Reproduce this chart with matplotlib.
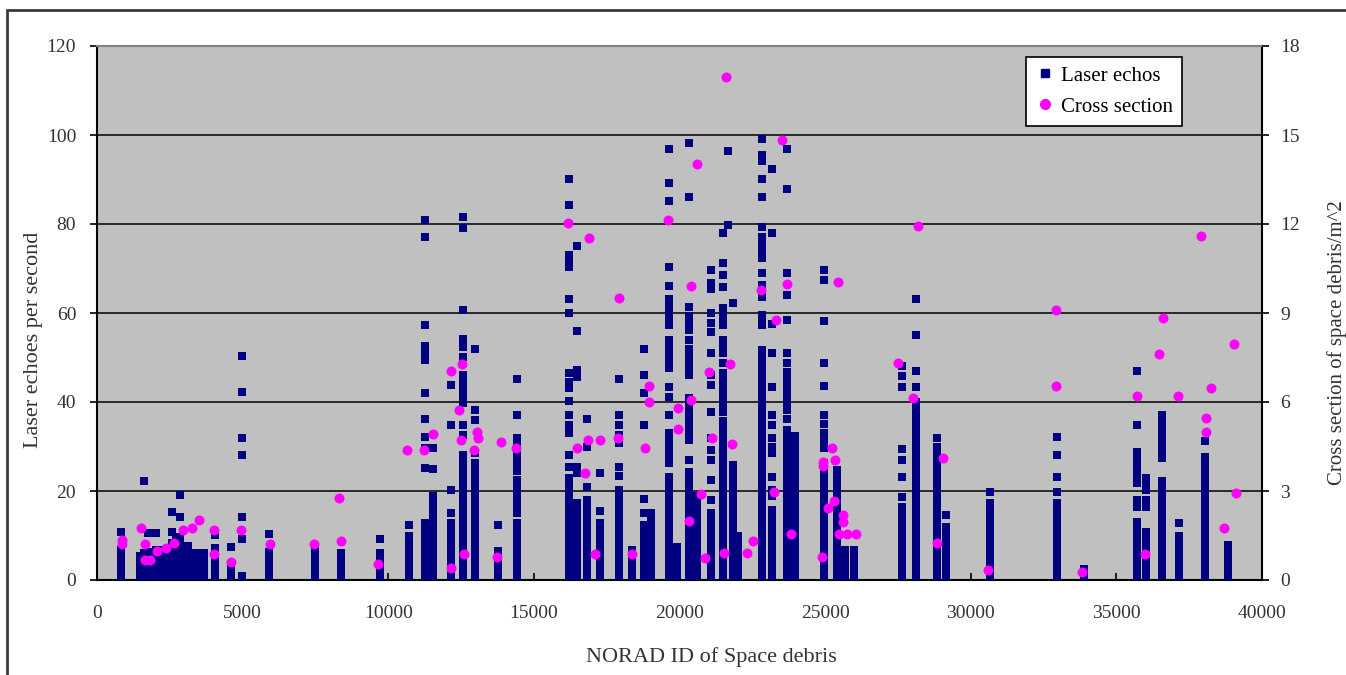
import matplotlib
matplotlib.use("Agg")
import matplotlib.pyplot as plt
from matplotlib.lines import Line2D
from matplotlib.patches import Rectangle

plt.rcParams['font.family'] = ['Liberation Serif', 'DejaVu Serif']

# laser echoes per second, one list of echo values per tracked object
echo_ids = [824, 1476, 1614, 1751, 1890, 2025, 2160, 2300, 2440, 2575, 2710, 2849, 2990, 3124,
            3260, 3399, 3530, 3673, 4051, 4600, 4978,
            5905, 7484, 8377, 9715, 10711, 11260, 11535, 12153, 12565, 12977, 13766, 14419,
            16204, 16478, 16822, 17268, 17920, 18366, 18778, 19019, 19637, 19911, 20323, 20598,
            21079, 21491, 21650, 21834, 22006, 22829, 23173, 23688, 23962, 24958, 25404, 25679,
            25988, 27635, 28116, 28837, 29146, 30657, 32957, 33884, 35703, 36012, 36561, 37145,
            38038, 38827]
echo_counts = [
    [0.8, 2.3, 3.8, 5.3, 6.8, 10.7],
    [0.8, 2.3, 3.8, 5.3],
    [0.8, 2.3, 3.8, 5.3, 6.0, 22.2],
    [0.8, 2.3, 3.8, 5.3, 6.3, 10.5],
    [0.8, 2.3, 3.8, 5.3, 6.3],
    [0.8, 2.3, 3.8, 5.3, 6.8, 10.5],
    [0.8, 2.3, 3.8, 5.3, 6.8],
    [0.8, 2.3, 3.8, 5.3, 6.8],
    [0.8, 2.3, 3.8, 5.3, 7.3],
    [0.8, 2.3, 3.8, 5.3, 6.8, 8.3, 10.7, 15.3],
    [0.8, 2.3, 3.8, 5.3, 6.8, 8.3, 9.6],
    [0.8, 2.3, 3.8, 5.3, 6.8, 8.3, 9.6, 14.2, 19.1],
    [0.8, 2.3, 3.8, 5.3, 6.8],
    [0.8, 2.3, 3.8, 5.3, 6.8, 7.7],
    [0.8, 2.3, 3.8, 5.3, 6.0],
    [0.8, 2.3, 3.8, 5.3, 6.0],
    [0.8, 2.3, 3.8, 5.3, 6.0],
    [0.8, 2.3, 3.8, 5.3, 6.0],
    [0.8, 2.3, 3.8, 5.3, 7.3, 10.2],
    [0.8, 2.3, 3.3, 7.5],
    [0.9, 9.2, 14.2, 28.1, 31.9, 42.2, 50.3],
    [0.8, 2.3, 3.8, 5.3, 6.3, 10.3],
    [0.8, 2.3, 3.8, 5.3, 6.5],
    [0.8, 2.3, 3.8, 5.3, 6.0],
    [0.8, 2.3, 3.8, 5.3, 6.0, 9.2],
    [0.8, 2.3, 3.8, 5.3, 6.8, 8.3, 9.8, 12.4],
    [0.8, 2.3, 3.8, 5.3, 6.8, 8.3, 9.8, 11.3, 12.8, 25.2, 29.7, 32.1, 36.2, 42.0, 49.5, 51.0,
     52.5, 57.3, 77.1, 81.0],
    [0.8, 2.3, 3.8, 5.3, 6.8, 8.3, 9.8, 11.3, 12.8, 14.3, 15.8, 17.3, 18.8, 25.0, 29.7],
    [0.8, 2.3, 3.8, 5.3, 6.8, 8.3, 9.8, 11.3, 12.8, 15.0, 20.2, 34.8, 43.8],
    [0.8, 2.3, 3.8, 5.3, 6.8, 8.3, 9.8, 11.3, 12.8, 14.3, 15.8, 17.3, 18.8, 20.3, 21.8, 23.3,
     24.8, 26.3, 28.1, 32.6, 34.8, 39.8, 41.3, 42.8, 44.3, 46.1, 50.1, 52.4, 54.2, 60.7, 79.1, 81.5],
    [0.8, 2.3, 3.8, 5.3, 6.8, 8.3, 9.8, 11.3, 12.8, 14.3, 15.8, 17.3, 18.8, 20.3, 21.8, 23.3,
     24.8, 26.3, 28.5, 36.0, 38.2, 51.9],
    [0.8, 2.3, 3.8, 5.3, 6.5, 12.4],
    [0.8, 2.3, 3.8, 5.3, 6.8, 8.3, 9.8, 11.3, 12.8, 15.0, 16.5, 18.0, 19.5, 21.0, 22.5, 24.5,
     26.0, 27.5, 29.0, 30.5, 32.0, 37.1, 45.2],
    [0.8, 2.3, 3.8, 5.3, 6.8, 8.3, 9.8, 11.3, 12.8, 14.3, 15.8, 17.3, 18.8, 20.3, 21.3, 23.0,
     25.4, 28.1, 33.0, 34.8, 37.1, 40.2, 43.1, 44.6, 46.5, 60.0, 63.1, 70.4, 72.0, 73.0, 84.3, 90.1],
    [0.8, 2.3, 3.8, 5.3, 6.8, 8.3, 9.8, 11.3, 12.8, 14.3, 15.8, 17.3, 24.0, 25.4, 45.6, 47.2,
     56.0, 75.0],
    [0.8, 2.3, 3.8, 5.3, 6.8, 8.3, 9.8, 11.3, 12.8, 14.3, 15.8, 17.3, 18.0, 20.9, 29.9, 36.2],
    [0.8, 2.3, 3.8, 5.3, 6.8, 8.3, 9.8, 11.3, 12.8, 15.5, 24.0],
    [0.8, 2.3, 3.8, 5.3, 6.8, 8.3, 9.8, 11.3, 12.8, 14.3, 15.8, 17.3, 18.8, 20.3, 23.4, 25.4,
     30.8, 32.6, 34.8, 37.1, 45.2],
    [0.8, 2.3, 3.8, 5.3, 6.7],
    [0.8, 2.3, 3.8, 5.3, 6.8, 8.3, 9.8, 10.6, 12.4, 15.0, 18.2, 34.8, 42.0, 46.0, 51.9],
    [0.8, 2.3, 3.8, 5.3, 6.8, 8.3, 9.8, 11.3, 12.8, 14.3, 15.0],
    [0.8, 2.3, 3.8, 5.3, 6.8, 8.3, 9.8, 11.3, 12.8, 14.3, 15.8, 17.3, 18.8, 20.3, 21.8, 23.1,
     26.3, 27.8, 29.3, 30.8, 32.3, 33.0, 37.1, 41.1, 43.4, 47.6, 49.1, 50.6, 52.1, 54.0, 57.3,
     58.8, 60.3, 61.3, 63.1, 66.0, 70.4, 85.2, 89.2, 96.8],
    [0.8, 2.3, 3.8, 5.3, 6.8, 7.4],
    [0.8, 2.3, 3.8, 5.3, 6.8, 8.3, 9.8, 11.3, 12.8, 14.3, 15.0, 16.5, 18.0, 19.5, 21.0, 22.5,
     24.3, 27.0, 31.5, 33.0, 34.5, 36.0, 37.5, 39.0, 40.5, 41.0, 46.0, 47.5, 49.0, 50.5, 52.0,
     54.0, 56.2, 57.8, 59.3, 61.3, 86.0, 98.2],
    [0.8, 2.3, 3.8, 5.3, 6.8, 8.3, 9.8, 11.3, 12.8, 14.3, 15.8, 17.3, 18.8],
    [0.8, 2.3, 3.8, 5.3, 6.8, 8.3, 9.8, 11.3, 12.8, 13.5, 15.0, 18.0, 22.5, 27.0, 29.2, 31.9,
     37.8, 43.8, 46.0, 51.0, 55.7, 57.8, 60.0, 65.4, 66.7, 69.7],
    [0.8, 2.3, 3.8, 5.3, 6.8, 8.3, 9.8, 11.3, 12.8, 14.3, 15.8, 17.3, 18.8, 20.3, 21.8, 23.3,
     24.8, 25.8, 27.3, 28.8, 29.7, 31.2, 32.7, 34.2, 35.7, 37.8, 39.0, 40.5, 42.0, 43.5, 45.0,
     46.5, 48.8, 51.0, 52.5, 54.0, 57.3, 58.8, 60.3, 61.1, 65.9, 68.5, 71.2, 78.0],
    [79.8, 96.4],
    [0.8, 2.3, 3.8, 5.3, 6.8, 8.3, 9.8, 11.3, 12.8, 14.3, 15.8, 17.3, 18.8, 20.3, 21.8, 23.3,
     24.8, 25.8, 62.2],
    [0.8, 2.3, 3.8, 5.3, 6.8, 8.3, 9.8],
    [0.8, 2.3, 3.8, 5.3, 6.8, 8.3, 9.8, 11.3, 12.8, 14.3, 15.8, 17.3, 18.8, 20.3, 21.8, 23.3,
     24.8, 26.3, 27.8, 29.3, 30.8, 31.5, 33.0, 34.5, 36.0, 37.5, 38.6, 39.8, 41.2, 42.0, 43.4,
     44.9, 46.4, 47.9, 49.4, 50.9, 51.7, 57.3, 58.5, 59.6, 63.6, 65.0, 66.3, 69.0, 72.4, 73.9,
     75.4, 77.0, 79.3, 86.0, 90.1, 94.2, 95.5, 99.0],
    [0.8, 2.3, 3.8, 5.3, 6.8, 8.3, 9.8, 11.3, 12.8, 14.3, 15.7, 18.8, 20.3, 23.1, 28.5, 30.0,
     31.9, 34.8, 37.1, 43.4, 51.0, 57.6, 78.0, 92.3],
    [0.8, 2.3, 3.8, 5.3, 6.8, 8.3, 9.8, 11.3, 12.8, 14.3, 15.8, 17.3, 18.8, 20.3, 21.8, 23.3,
     24.8, 26.3, 27.8, 29.3, 30.8, 32.3, 33.8, 36.2, 38.2, 39.7, 41.2, 42.7, 44.2, 45.7, 46.7,
     48.8, 51.0, 58.4, 64.0, 69.0, 87.8, 96.8],
    [0.8, 2.3, 3.8, 5.3, 6.8, 8.3, 9.8, 11.3, 12.8, 14.3, 15.8, 17.3, 18.8, 20.3, 21.8, 23.3,
     24.8, 26.3, 27.8, 29.3, 30.8, 32.3],
    [0.8, 2.3, 3.8, 5.3, 6.8, 8.3, 9.8, 11.3, 12.8, 14.3, 15.8, 17.3, 18.8, 20.3, 21.8, 23.3,
     24.8, 26.3, 29.7, 31.5, 33.0, 35.0, 37.1, 43.6, 48.8, 58.2, 67.4, 69.7],
    [0.8, 2.3, 3.8, 5.3, 6.8, 8.3, 9.8, 11.3, 12.8, 14.3, 15.8, 17.3, 18.8, 20.2, 21.8, 22.9, 24.7],
    [0.8, 2.3, 3.8, 5.3, 6.8],
    [0.8, 2.3, 3.8, 5.3, 6.8],
    [0.8, 2.3, 3.8, 5.3, 6.8, 8.3, 9.8, 11.3, 12.8, 14.3, 15.7, 16.4, 18.7, 23.1, 27.0, 29.4,
     43.4, 45.8, 48.0],
    [0.8, 2.3, 3.8, 5.3, 6.8, 8.3, 9.8, 11.3, 12.8, 14.3, 15.8, 17.3, 18.8, 20.3, 21.8, 23.3,
     24.8, 26.3, 27.8, 29.3, 30.8, 31.5, 33.0, 34.5, 36.0, 37.5, 39.0, 40.0, 43.4, 47.0, 55.0, 63.1],
    [0.8, 2.3, 3.8, 5.3, 6.8, 8.3, 9.8, 11.3, 12.8, 14.3, 15.8, 17.3, 18.8, 20.3, 21.8, 23.3,
     24.8, 26.3, 27.0, 28.5, 30.0, 31.9],
    [0.8, 2.3, 3.8, 5.3, 6.8, 8.3, 9.8, 11.3, 12.0, 14.6],
    [0.8, 2.3, 3.8, 5.3, 6.8, 8.3, 9.8, 11.3, 12.8, 14.3, 15.8, 17.3, 19.8],
    [0.8, 2.3, 3.8, 5.3, 6.8, 8.3, 9.8, 11.3, 12.8, 14.3, 15.7, 17.3, 19.8, 23.1, 28.1, 32.1],
    [0.8, 2.5],
    [0.8, 2.3, 3.8, 5.3, 6.8, 8.3, 9.8, 11.3, 13.0, 16.4, 18.0, 21.8, 23.3, 24.8, 26.3, 27.8,
     28.8, 34.8, 47.0],
    [0.8, 2.3, 3.8, 5.3, 6.8, 8.3, 9.4, 10.8, 16.4, 18.0, 20.2, 21.5, 22.9],
    [1.1, 2.6, 4.1, 5.6, 7.1, 8.6, 10.1, 11.6, 13.1, 14.6, 16.1, 17.6, 19.1, 20.7, 22.2, 27.4,
     28.9, 30.4, 31.5, 33.0, 34.5, 35.3, 37.1],
    [0.8, 2.3, 3.8, 5.3, 6.0, 6.7, 8.2, 9.9, 12.8],
    [0.8, 2.3, 3.8, 5.3, 6.8, 8.3, 9.8, 11.3, 12.8, 14.3, 15.8, 17.3, 18.8, 20.3, 21.8, 23.3,
     24.8, 26.3, 27.6, 31.2],
    [0.8, 2.3, 3.8, 5.3, 6.0, 7.9],
]

# radar cross section (m^2), right axis
cs_ids = [858, 858, 1511, 1648, 1648, 1820, 2060, 2369, 2643, 2952, 3261, 3502, 4017, 4017,
          4600, 4944, 5939, 7450, 8308, 8377, 9647, 10642, 11226, 11535, 12153, 12153, 12427,
          12496, 12530, 12599, 12942, 13045, 13080, 13732, 13869, 14384, 16169, 16478, 16753,
          16856, 16890, 17096, 17268, 17886, 17920, 18366, 18813, 18950, 18950, 19602, 19946,
          19946, 20323, 20392, 20392, 20598, 20735, 20873, 21010, 21113, 21525, 21594, 21731,
          21800, 22315, 22520, 22795, 23241, 23310, 23516, 23688, 23825, 24889, 24924, 24924,
          25095, 25233, 25301, 25336, 25438, 25473, 25610, 25610, 25748, 26057, 27498, 28013,
          28185, 28837, 29043, 30588, 32922, 32922, 33815, 35703, 35978, 36458, 36596, 37111,
          37901, 38072, 38072, 38244, 38690, 39033, 39102]
cs_values = [1.35, 1.2, 1.74, 1.21, 0.67, 0.67, 0.99, 1.08, 1.26, 1.69, 1.75, 2.02, 1.69, 0.88,
             0.61, 1.69, 1.21, 1.21, 2.76, 1.31, 0.54, 4.38, 4.38, 4.92, 0.40, 7.05, 5.73,
             4.72, 7.28, 0.88, 4.38, 4.99, 4.79, 0.78, 4.65, 4.45, 12.03, 4.45, 3.61,
             4.72, 11.53, 0.88, 4.72, 4.79, 9.5, 0.88, 4.45, 6.54, 6.0, 12.13, 5.8,
             5.09, 1.99, 9.91, 6.07, 14.02, 2.9, 0.74, 7.01, 4.79, 0.91, 16.95, 7.28,
             4.58, 0.91, 1.31, 9.77, 2.97, 8.76, 14.83, 9.98, 1.55, 0.78, 3.84, 3.98,
             2.43, 4.45, 2.66, 4.04, 10.04, 1.55, 2.19, 1.96, 1.55, 1.55, 7.31, 6.15,
             11.93, 1.25, 4.11, 0.34, 9.1, 6.54, 0.27, 6.2, 0.88, 7.62, 8.83, 6.2,
             11.59, 5.46, 4.99, 6.47, 1.75, 7.95, 2.93]

x_ticks = [0, 5000, 10000, 15000, 20000, 25000, 30000, 35000, 40000]
left_ticks = [0, 20, 40, 60, 80, 100, 120]
right_ticks = [0, 3, 6, 9, 12, 15, 18]

navy = '#000080'
pink = '#FF00FF'
txt = '#333333'

fig = plt.figure(figsize=(13.46, 6.75), dpi=100)
ax = fig.add_axes([97 / 1346, 95 / 675, 1165 / 1346, 534 / 675])
ax2 = ax.twinx()

ex, ey = [], []
for nid, vals in zip(echo_ids, echo_counts):
    for v in vals:
        ex.append(nid)
        ey.append(v)

ax.set_facecolor('#C0C0C0')
ax.set_axisbelow(True)
ax.yaxis.grid(True, color='black', linewidth=1.1)
ax.scatter(ex, ey, marker='s', s=36, color=navy, linewidths=0, zorder=3)
ax2.scatter(cs_ids, cs_values, marker='o', s=52, color=pink, linewidths=0, zorder=4)

ax.set_xlim(0, 40000)
ax.set_ylim(0, 120)
ax2.set_ylim(0, 18)
ax.set_xticks(x_ticks)
ax.set_xticklabels([str(t) for t in x_ticks])
ax.set_yticks(left_ticks)
ax2.set_yticks(right_ticks)

ax.tick_params(axis='x', direction='in', length=5, width=1.2, pad=18, labelsize=14,
               labelcolor=txt)
ax.tick_params(axis='y', direction='out', length=5, width=1.2, pad=10, labelsize=14,
               labelcolor=txt)
ax2.tick_params(axis='y', direction='out', length=5, width=1.2, pad=8, labelsize=14,
                labelcolor=txt)

for sp in ['left', 'bottom', 'right']:
    ax.spines[sp].set_linewidth(1.5)
    ax.spines[sp].set_color('black')
ax.spines['top'].set_color('#808080')
ax.spines['top'].set_linewidth(1.5)
for sp in ax2.spines.values():
    sp.set_visible(False)

ax.set_xlabel('NORAD ID of Space debris', fontsize=16, color=txt)
ax.xaxis.set_label_coords(0.527, -0.125)
ax.set_ylabel('Laser echoes per second', fontsize=16, color=txt)
ax.yaxis.set_label_coords(-0.046, 0.45)
ax2.set_ylabel('Cross section of space debris/m^2', fontsize=15, color=txt)
ax2.yaxis.set_label_coords(1.056, 0.445)

handles = [Line2D([], [], ls='none', marker='s', ms=5.8, color=navy, label='Laser echos'),
           Line2D([], [], ls='none', marker='o', ms=7, color=pink, label='Cross section')]
leg = ax2.legend(handles=handles, loc='upper left', bbox_to_anchor=(0.797, 0.98),
                 fontsize=15, frameon=True, fancybox=False, borderpad=0.45,
                 handletextpad=0.25, handlelength=1.0, labelspacing=0.55, borderaxespad=0)
leg.get_frame().set_edgecolor('black')
leg.get_frame().set_linewidth(1.2)
leg.get_frame().set_facecolor('white')
leg.get_frame().set_alpha(1)

# outer chart border (cut off on the right/bottom in the original screenshot)
fig.patches.append(Rectangle((7 / 1346, -0.1), 1.2, 1.1 - 10 / 675, transform=fig.transFigure,
                             fill=False, edgecolor='#3a3a3a', linewidth=2, clip_on=False))

fig.savefig('out.png', dpi=100, facecolor='white')
